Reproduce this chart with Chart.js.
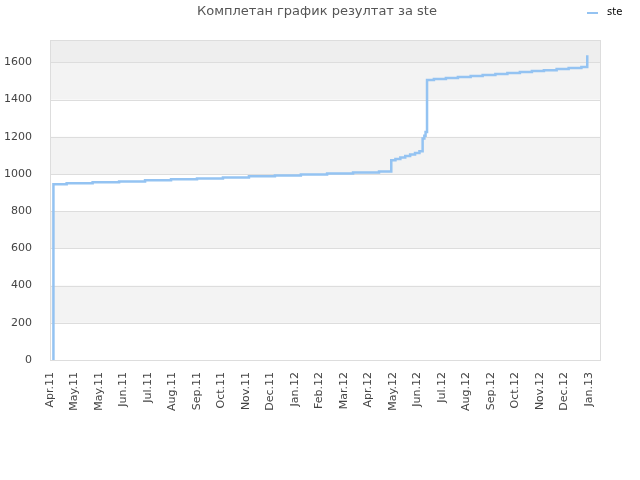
<!DOCTYPE html>
<html>
<head>
<meta charset="utf-8">
<script src="https://cdn.jsdelivr.net/npm/chart.js@4/dist/chart.umd.min.js"></script>
<style>
  html, body { margin: 0; padding: 0; background: #fff; }
  #wrap { width: 640px; height: 480px; }
</style>
</head>
<body>
<div id="wrap"><canvas id="chart" width="640" height="480"></canvas></div>
<script>
/* ===== DATA ===== */
const titleText = 'Комплетан график резултат за ste';
const seriesName = 'ste';
const monthLabels = ['Apr.11', 'May.11', 'May.11', 'Jun.11', 'Jul.11', 'Aug.11', 'Sep.11', 'Oct.11',
  'Nov.11', 'Dec.11', 'Jan.12', 'Feb.12', 'Mar.12', 'Apr.12', 'May.12', 'Jun.12', 'Jul.12',
  'Aug.12', 'Sep.12', 'Oct.12', 'Nov.12', 'Dec.12', 'Jan.13'];
// position along the time axis, in label steps
const stepX = [0.14, 0.14, 0.68, 1.74, 2.82, 3.88, 4.94, 6.00, 7.06, 8.12, 9.18, 10.24, 11.31,
  12.37, 13.43, 13.93, 14.10, 14.30, 14.50, 14.70, 14.90, 15.08, 15.21, 15.21, 15.28, 15.33,
  15.39, 15.39, 15.67, 16.16, 16.65, 17.17, 17.66, 18.18, 18.67, 19.18, 19.67, 20.16, 20.68,
  21.17, 21.69, 21.93];
const scoreY = [0, 945, 950, 955, 960, 966, 971, 976, 981, 987, 992, 997, 1003,
  1008, 1013, 1074, 1080, 1088, 1096, 1104, 1112, 1122, 1131, 1190, 1205, 1225,
  1248, 1505, 1510, 1516, 1521, 1526, 1532, 1537, 1542, 1548, 1553, 1558, 1564,
  1569, 1575, 1638];
const yTicks = [0, 200, 400, 600, 800, 1000, 1200, 1400, 1600];
const yMax = 1720;
const xMax = 22.45;

const lineColor = '#94c3f2';
const font = { family: 'DejaVu Sans', size: 11 };

/* ===== PLOT BACKGROUND: bands + frame ===== */
const bandsPlugin = {
  id: 'bands',
  beforeDraw(chart) {
    const { ctx, chartArea: a, scales: { y } } = chart;
    ctx.save();
    for (let i = 0; i < yTicks.length; i++) {
      const lo = yTicks[i];
      const hi = i + 1 < yTicks.length ? yTicks[i + 1] : yMax;
      let fill = null;
      if (i === yTicks.length - 1) fill = '#eeeeee';
      else if (i % 2 === 1) fill = '#f3f3f3';
      if (!fill) continue;
      const top = y.getPixelForValue(hi), bot = y.getPixelForValue(lo);
      ctx.fillStyle = fill;
      ctx.fillRect(a.left, top, a.right - a.left, bot - top);
    }
    ctx.strokeStyle = '#dddddd';
    ctx.lineWidth = 1;
    yTicks.forEach(v => {
      const py = Math.round(y.getPixelForValue(v)) + 0.5;
      ctx.beginPath(); ctx.moveTo(a.left, py); ctx.lineTo(a.right, py); ctx.stroke();
    });
    ctx.strokeRect(Math.round(a.left) + 0.5, Math.round(a.top) + 0.5,
      Math.round(a.right - a.left), Math.round(a.bottom - a.top));
    ctx.restore();
  },
  afterDraw(chart) {
    const { ctx } = chart;
    ctx.save();
    ctx.font = '13px "DejaVu Sans"';
    ctx.fillStyle = '#555555';
    ctx.textAlign = 'center';
    ctx.textBaseline = 'middle';
    ctx.fillText(titleText, 317, 12);
    ctx.strokeStyle = lineColor;
    ctx.lineWidth = 2;
    ctx.beginPath(); ctx.moveTo(587, 13); ctx.lineTo(598, 13); ctx.stroke();
    ctx.font = '10px "DejaVu Sans"';
    ctx.fillStyle = '#000000';
    ctx.textAlign = 'left';
    ctx.fillText(chart.data.datasets[0].label, 607, 12);
    ctx.restore();
  }
};

new Chart(document.getElementById('chart'), {
  type: 'line',
  data: {
    datasets: [{
      label: seriesName,
      data: stepX.map((x, i) => ({ x, y: scoreY[i] })),
      borderColor: lineColor, borderWidth: 2.5,
      pointRadius: 0, stepped: true, fill: false, tension: 0
    }]
  },
  options: {
    responsive: false, animation: false,
    layout: { padding: { top: 40, right: 40, left: 0, bottom: 0 } },
    plugins: { legend: { display: false }, title: { display: false }, tooltip: { enabled: false } },
    scales: {
      x: {
        type: 'linear', min: 0, max: xMax,
        afterBuildTicks: s => { s.ticks = monthLabels.map((_, i) => ({ value: i })); },
        afterFit: s => { s.height = 120; },
        grid: { display: false }, border: { display: false },
        ticks: {
          autoSkip: false, maxRotation: 90, minRotation: 90, padding: 4,
          font, color: '#444444',
          callback: v => monthLabels[v]
        }
      },
      y: {
        min: 0, max: yMax,
        afterBuildTicks: s => { s.ticks = yTicks.map(v => ({ value: v })); },
        afterFit: s => { s.width = 50; },
        grid: { display: false }, border: { display: false },
        ticks: { font, color: '#444444', padding: 10, callback: v => String(v) }
      }
    }
  },
  plugins: [bandsPlugin]
});
</script>
</body>
</html>
